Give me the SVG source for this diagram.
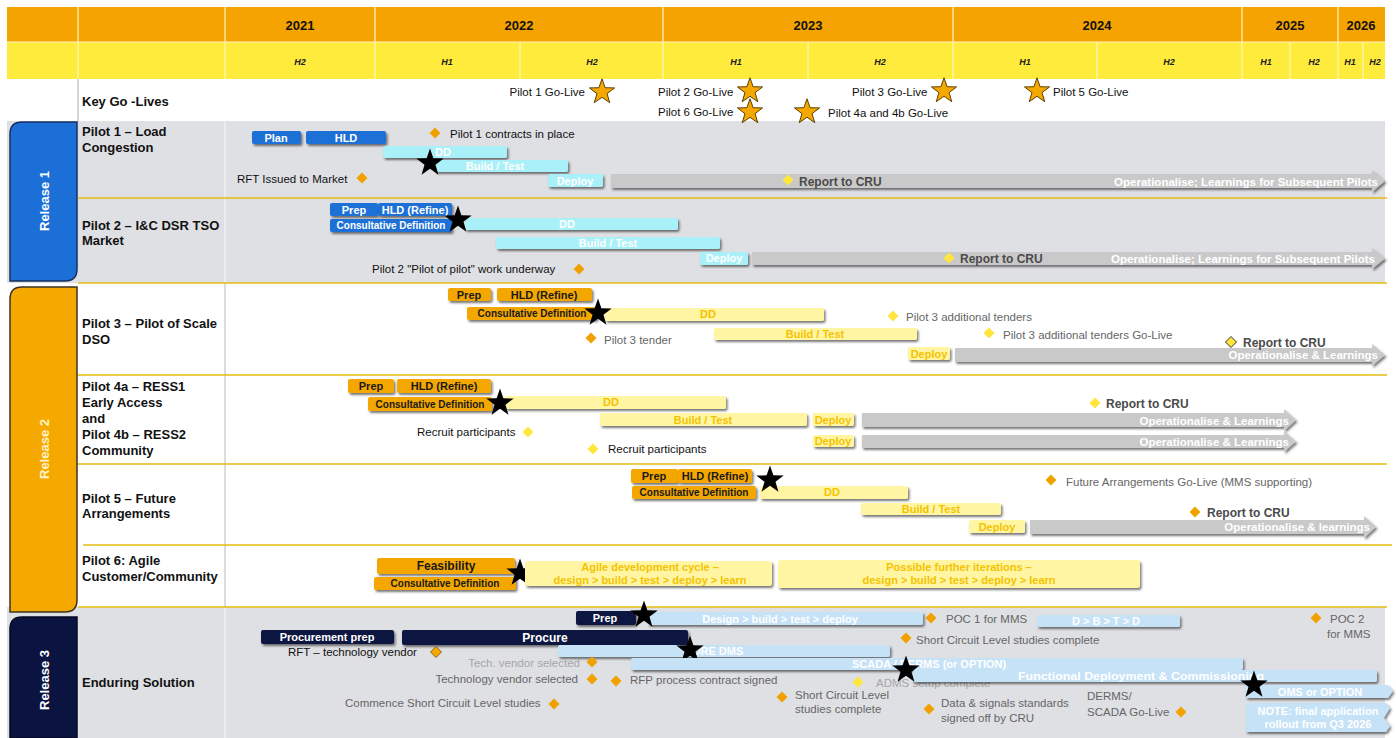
<svg xmlns="http://www.w3.org/2000/svg" xmlns:xlink="http://www.w3.org/1999/xlink" width="1396" height="738" viewBox="0 0 1396 738">
<style>
text{font-family:"Liberation Sans",Arial,sans-serif}
.yr{font-size:13px;font-weight:bold;fill:#111;text-anchor:middle}
.hf{font-size:9px;font-weight:bold;font-style:italic;fill:#222;text-anchor:middle}
.lab{font-size:13px;font-weight:bold;fill:#111}
.ms{font-size:11.5px;fill:#111}
.msg{font-size:11.5px;fill:#666}
.msl{font-size:11.5px;fill:#a6a6a6}
.bw{font-size:11px;font-weight:bold;fill:#fff;text-anchor:middle}
.by{font-size:11px;font-weight:bold;fill:#f4c300;text-anchor:middle}
.bd{font-size:11px;font-weight:bold;fill:#1a1a1a;text-anchor:middle}
.cd{font-size:10px}
.cru{font-size:12px;font-weight:bold;fill:#4a4a4a}
.op{font-size:11.5px;font-weight:bold;fill:#fff;text-anchor:end}
.rel{font-size:13px;font-weight:bold;text-anchor:middle}
.blue{fill:#1b6fd6}
.cyan{fill:#a9f0f9}
.ylw{fill:#fff5a3}
.org{fill:#f4a700}
.navy{fill:#0b1340}
.lb{fill:#c5e2f7}
.arr{fill:#c9c9c9}
.sep{stroke:#e3bd10;stroke-width:1.5}
.sh{filter:url(#sh)}
.dmo{fill:#f0a000}
.dmy{fill:#ffe53c}
.stb{fill:#000}
.sto{fill:#f5a800;stroke:#5a3e00;stroke-width:0.9}
</style>
<defs>
<filter id="sh" x="-5%" y="-30%" width="112%" height="180%">
<feDropShadow dx="1.5" dy="2" stdDeviation="1" flood-color="#222" flood-opacity="0.6"/>
</filter>
<path id="star" d="M0,-12 L2.82,-3.88 L11.41,-3.71 L4.57,1.48 L7.05,9.71 L0,4.8 L-7.05,9.71 L-4.57,1.48 L-11.41,-3.71 L-2.82,-3.88 Z"/>
<path id="dm" d="M0,-5.5 L5.5,0 L0,5.5 L-5.5,0 Z"/>
</defs>

<rect x="0" y="0" width="1396" height="738" fill="#fff"/>

<g id="header">
<rect x="7" y="7" width="1378" height="35" fill="#f5a300"/>
<rect x="7" y="42" width="1378" height="37" fill="#ffeb3b"/>
<g stroke="#fff6c0" stroke-width="1.2">
<line x1="78" y1="7" x2="78" y2="79"/><line x1="225" y1="7" x2="225" y2="79"/>
<line x1="375" y1="7" x2="375" y2="79"/><line x1="663" y1="7" x2="663" y2="79"/>
<line x1="953" y1="7" x2="953" y2="79"/><line x1="1242" y1="7" x2="1242" y2="79"/>
<line x1="1338" y1="7" x2="1338" y2="79"/>
<line x1="520" y1="42" x2="520" y2="79"/><line x1="808" y1="42" x2="808" y2="79"/>
<line x1="1097" y1="42" x2="1097" y2="79"/><line x1="1290" y1="42" x2="1290" y2="79"/>
<line x1="1363" y1="42" x2="1363" y2="79"/>
<line x1="7" y1="42" x2="1385" y2="42"/>
</g>
<text class="yr" x="300" y="30">2021</text>
<text class="yr" x="519" y="30">2022</text>
<text class="yr" x="808" y="30">2023</text>
<text class="yr" x="1097" y="30">2024</text>
<text class="yr" x="1290" y="30">2025</text>
<text class="yr" x="1361" y="30">2026</text>
<text class="hf" x="300" y="65">H2</text>
<text class="hf" x="447" y="65">H1</text>
<text class="hf" x="592" y="65">H2</text>
<text class="hf" x="736" y="65">H1</text>
<text class="hf" x="880" y="65">H2</text>
<text class="hf" x="1025" y="65">H1</text>
<text class="hf" x="1169" y="65">H2</text>
<text class="hf" x="1266" y="65">H1</text>
<text class="hf" x="1314" y="65">H2</text>
<text class="hf" x="1350" y="65">H1</text>
<text class="hf" x="1375" y="65">H2</text>
</g>

<g id="background">
<line x1="78" y1="79" x2="78" y2="121" stroke="#bdbdbd" stroke-width="1.2"/>
<rect x="7" y="121" width="1378" height="162" fill="#dfe0e4"/>
<rect x="7" y="607" width="1378" height="131" fill="#dfe0e4"/>
<line x1="225" y1="121" x2="225" y2="283" stroke="#f2f2f2" stroke-width="1.2"/>
<line x1="225" y1="283" x2="225" y2="607" stroke="#c4c4c4" stroke-width="1.2"/>
<line x1="225" y1="607" x2="225" y2="738" stroke="#f2f2f2" stroke-width="1.2"/>
<line class="sep" x1="78" y1="198" x2="1387" y2="198"/>
<line class="sep" x1="78" y1="283" x2="1387" y2="283"/>
<line class="sep" x1="78" y1="375" x2="1387" y2="375"/>
<line class="sep" x1="78" y1="464" x2="1387" y2="464"/>
<line class="sep" x1="83" y1="545" x2="1392" y2="545"/>
<line class="sep" x1="78" y1="607" x2="1387" y2="607"/>
</g>

<g id="release-1">
<path d="M22,122 H77 V269 Q77,281 65,281 H10 V134 Q10,122 22,122 Z" fill="#1b6fd6" stroke="#16305e" stroke-width="1.5"/>
<text class="rel" fill="#fff" transform="translate(49,201) rotate(-90)">Release 1</text>
</g>
<g id="release-2">
<path d="M22,287 H77 V600 Q77,612 65,612 H10 V299 Q10,287 22,287 Z" fill="#f5a800" stroke="#3a3320" stroke-width="1.5"/>
<text class="rel" fill="#fff3c4" transform="translate(49,449) rotate(-90)">Release 2</text>
</g>
<g id="release-3">
<path d="M22,617 H77 V738 H10 V629 Q10,617 22,617 Z" fill="#0b1340" stroke="#050a20" stroke-width="1.5"/>
<text class="rel" fill="#fff" transform="translate(49,680) rotate(-90)">Release 3</text>
</g>

<g id="row-labels">
<text class="lab" x="82" y="106">Key Go -Lives</text>
<text class="lab" x="82" y="136">Pilot 1 – Load</text>
<text class="lab" x="82" y="152">Congestion</text>
<text class="lab" x="82" y="230">Pilot 2 – I&amp;C DSR TSO</text>
<text class="lab" x="82" y="245">Market</text>
<text class="lab" x="82" y="328">Pilot 3 – Pilot of Scale</text>
<text class="lab" x="82" y="344">DSO</text>
<text class="lab" x="82" y="391">Pilot 4a – RESS1</text>
<text class="lab" x="82" y="407">Early Access</text>
<text class="lab" x="82" y="423">and</text>
<text class="lab" x="82" y="439">Pilot 4b – RESS2</text>
<text class="lab" x="82" y="455">Community</text>
<text class="lab" x="82" y="503">Pilot 5 – Future</text>
<text class="lab" x="82" y="518">Arrangements</text>
<text class="lab" x="82" y="565">Pilot 6: Agile</text>
<text class="lab" x="82" y="581">Customer/Community</text>
<text class="lab" x="82" y="687">Enduring Solution</text>
</g>

<g id="connectors"></g>

<!-- Key go-lives -->
<g id="golive-p1"><text class="ms" x="585" y="96" text-anchor="end">Pilot 1 Go-Live</text><use href="#star" class="sto" transform="translate(602,92) scale(1.1)"/></g>
<g id="golive-p2"><text class="ms" x="658" y="96">Pilot 2 Go-Live</text><use href="#star" class="sto" transform="translate(750,91) scale(1.1)"/></g>
<g id="golive-p6"><text class="ms" x="658" y="116">Pilot 6 Go-Live</text><use href="#star" class="sto" transform="translate(750,112) scale(1.1)"/></g>
<g id="golive-p4"><use href="#star" class="sto" transform="translate(807,112) scale(1.1)"/><text class="ms" x="828" y="117">Pilot 4a and 4b Go-Live</text></g>
<g id="golive-p3"><text class="ms" x="852" y="96">Pilot 3 Go-Live</text><use href="#star" class="sto" transform="translate(944,91) scale(1.1)"/></g>
<g id="golive-p5"><use href="#star" class="sto" transform="translate(1037,91) scale(1.1)"/><text class="ms" x="1053" y="96">Pilot 5 Go-Live</text></g>

<!-- Pilot 1 -->
<g id="p1-plan"><rect class="blue sh" x="252" y="131" width="49" height="13" rx="2"/><text class="bw" x="276" y="141.5">Plan</text></g>
<g id="p1-hld"><rect class="blue sh" x="306" y="131" width="80" height="13" rx="2"/><text class="bw" x="346" y="141.5">HLD</text></g>
<g id="p1-contracts"><use href="#dm" class="dmo" x="435" y="133"/><text class="ms" x="450" y="138">Pilot 1 contracts in place</text></g>
<g id="p1-dd"><rect class="cyan sh" x="383" y="146" width="124" height="12" rx="2"/><text class="bw" x="443" y="156">DD</text></g>
<g id="p1-build"><rect class="cyan sh" x="435" y="160" width="133" height="12" rx="2"/><text class="bw" x="495" y="170">Build / Test</text></g>
<g id="p1-deploy"><rect class="cyan sh" x="548" y="174" width="55" height="13" rx="2"/><text class="bw" x="575" y="184.5">Deploy</text></g>
<g id="p1-rft"><text class="ms" x="237" y="183">RFT Issued to Market</text><use href="#dm" class="dmo" x="362" y="178"/></g>
<g id="p1-star"><use href="#star" class="stb" transform="translate(430,163) scale(1.2)"/></g>
<g id="p1-operationalise">
<polygon class="arr sh" points="611,174 1372,174 1372,170 1385,181 1372,192 1372,188 611,188"/>
<use href="#dm" class="dmy" x="788" y="180"/>
<text class="cru" x="799" y="186">Report to CRU</text>
<text class="op" x="1378" y="186">Operationalise; Learnings for Subsequent Pilots</text>
</g>

<!-- Pilot 2 -->
<g id="p2-prep"><rect class="blue sh" x="330" y="203" width="48" height="13" rx="2"/><text class="bw" x="354" y="213.5">Prep</text></g>
<g id="p2-hld"><rect class="blue sh" x="378" y="203" width="74" height="13" rx="2"/><text class="bw" x="415" y="213.5">HLD (Refine)</text></g>
<g id="p2-consult"><rect class="blue sh" x="330" y="219" width="122" height="13" rx="2"/><text class="bw cd" x="391" y="229">Consultative Definition</text></g>
<g id="p2-dd"><rect class="cyan sh" x="465" y="218" width="213" height="12" rx="2"/><text class="bw" x="567" y="228">DD</text></g>
<g id="p2-build"><rect class="cyan sh" x="496" y="237" width="224" height="12" rx="2"/><text class="bw" x="608" y="247">Build / Test</text></g>
<g id="p2-deploy"><rect class="cyan sh" x="700" y="252" width="48" height="13" rx="2"/><text class="bw" x="724" y="262">Deploy</text></g>
<g id="p2-star"><use href="#star" class="stb" transform="translate(458,220) scale(1.2)"/></g>
<g id="p2-underway"><text class="ms" x="372" y="273">Pilot 2 "Pilot of pilot" work underway</text><use href="#dm" class="dmo" x="579" y="269"/></g>
<g id="p2-operationalise">
<polygon class="arr sh" points="752,252 1372,252 1372,248 1385,258.5 1372,269 1372,265 752,265"/>
<use href="#dm" class="dmy" x="949" y="258"/>
<text class="cru" x="960" y="263">Report to CRU</text>
<text class="op" x="1375" y="263">Operationalise; Learnings for Subsequent Pilots</text>
</g>

<!-- Pilot 3 -->
<g id="p3-prep"><rect class="org sh" x="448" y="288" width="43" height="13" rx="2"/><text class="bd" x="469" y="298.5">Prep</text></g>
<g id="p3-hld"><rect class="org sh" x="497" y="288" width="95" height="13" rx="2"/><text class="bd" x="544" y="298.5">HLD (Refine)</text></g>
<g id="p3-consult"><rect class="org sh" x="467" y="307" width="130" height="13" rx="2"/><text class="bd cd" x="532" y="317">Consultative Definition</text></g>
<g id="p3-dd"><rect class="ylw sh" x="605" y="308" width="219" height="13" rx="2"/><text class="by" x="708" y="318">DD</text></g>
<g id="p3-star"><use href="#star" class="stb" transform="translate(598,313) scale(1.2)"/></g>
<g id="p3-addtenders"><use href="#dm" class="dmy" x="893" y="316"/><text class="msg" x="906" y="321">Pilot 3 additional tenders</text></g>
<g id="p3-tender"><use href="#dm" class="dmo" x="591" y="338"/><text class="msg" x="604" y="344">Pilot 3 tender</text></g>
<g id="p3-build"><rect class="ylw sh" x="714" y="328" width="203" height="12" rx="2"/><text class="by" x="815" y="338">Build / Test</text></g>
<g id="p3-addgolive"><use href="#dm" class="dmy" x="989" y="333"/><text class="msg" x="1003" y="339">Pilot 3 additional tenders Go-Live</text></g>
<g id="p3-deploy"><rect class="ylw sh" x="908" y="347" width="42" height="13" rx="2"/><text class="by" x="929" y="357.5">Deploy</text></g>
<g id="p3-operationalise">
<polygon class="arr sh" points="955,348 1372,348 1372,344 1385,355 1372,366 1372,362 955,362"/>
<use href="#dm" fill="#ffe53c" stroke="#333" stroke-width="1" x="1231" y="342"/>
<text class="cru" x="1243" y="347">Report to CRU</text>
<text class="op" x="1378" y="359">Operationalise &amp; Learnings</text>
</g>

<!-- Pilot 4 -->
<g id="p4-prep"><rect class="org sh" x="348" y="379" width="46" height="14" rx="2"/><text class="bd" x="371" y="390">Prep</text></g>
<g id="p4-hld"><rect class="org sh" x="397" y="379" width="94" height="14" rx="2"/><text class="bd" x="444" y="390">HLD (Refine)</text></g>
<g id="p4-consult"><rect class="org sh" x="368" y="397" width="124" height="14" rx="2"/><text class="bd cd" x="430" y="407.5">Consultative Definition</text></g>
<g id="p4-dd"><rect class="ylw sh" x="505" y="396" width="221" height="13" rx="2"/><text class="by" x="611" y="406">DD</text></g>
<g id="p4-star"><use href="#star" class="stb" transform="translate(500,403) scale(1.2)"/></g>
<g id="p4-recruit1"><text class="ms" x="417" y="436">Recruit participants</text><use href="#dm" class="dmy" x="528" y="432"/></g>
<g id="p4-build"><rect class="ylw sh" x="600" y="413" width="207" height="13" rx="2"/><text class="by" x="703" y="423.5">Build / Test</text></g>
<g id="p4-deploy1"><rect class="ylw sh" x="813" y="413" width="41" height="13" rx="2"/><text class="by" x="833" y="423.5">Deploy</text></g>
<g id="p4-operationalise1">
<polygon class="arr sh" points="862,413 1284,413 1284,409 1296,420 1284,431 1284,427 862,427"/>
<text class="op" x="1289" y="425">Operationalise &amp; Learnings</text>
</g>
<g id="p4-recruit2"><use href="#dm" class="dmy" x="593" y="449"/><text class="ms" x="608" y="453">Recruit participants</text></g>
<g id="p4-deploy2"><rect class="ylw sh" x="813" y="435" width="41" height="12" rx="2"/><text class="by" x="833" y="445">Deploy</text></g>
<g id="p4-operationalise2">
<polygon class="arr sh" points="862,435 1284,435 1284,431 1296,441.5 1284,452 1284,448 862,448"/>
<text class="op" x="1289" y="446">Operationalise &amp; Learnings</text>
</g>
<g id="p4-report"><use href="#dm" class="dmy" x="1095" y="403"/><text class="cru" x="1106" y="408">Report to CRU</text></g>

<!-- Pilot 5 -->
<g id="p5-prep"><rect class="org sh" x="631" y="469" width="47" height="14" rx="2"/><text class="bd" x="654" y="480">Prep</text></g>
<g id="p5-hld"><rect class="org sh" x="678" y="469" width="74" height="14" rx="2"/><text class="bd" x="715" y="480">HLD (Refine)</text></g>
<g id="p5-consult"><rect class="org sh" x="632" y="486" width="124" height="13" rx="2"/><text class="bd cd" x="694" y="496">Consultative Definition</text></g>
<g id="p5-dd"><rect class="ylw sh" x="760" y="486" width="148" height="13" rx="2"/><text class="by" x="832" y="496">DD</text></g>
<g id="p5-star"><use href="#star" class="stb" transform="translate(770,480) scale(1.2)"/></g>
<g id="p5-build"><rect class="ylw sh" x="861" y="503" width="140" height="12" rx="2"/><text class="by" x="931" y="513">Build / Test</text></g>
<g id="p5-deploy"><rect class="ylw sh" x="969" y="520" width="56" height="13" rx="2"/><text class="by" x="997" y="530.5">Deploy</text></g>
<g id="p5-operationalise">
<polygon class="arr sh" points="1030,520 1364,520 1364,516 1376,527 1364,538 1364,534 1030,534"/>
<text class="op" x="1370" y="531">Operationalise &amp; learnings</text>
</g>
<g id="p5-future"><use href="#dm" class="dmo" x="1051" y="480"/><text class="msg" x="1066" y="486">Future Arrangements Go-Live (MMS supporting)</text></g>
<g id="p5-report"><use href="#dm" class="dmo" x="1195" y="512"/><text class="cru" x="1207" y="517">Report to CRU</text></g>

<!-- Pilot 6 -->
<g id="p6-feasibility"><rect class="org sh" x="377" y="558" width="138" height="16" rx="2"/><text class="bd" style="font-size:12px" x="446" y="570">Feasibility</text></g>
<g id="p6-consult"><rect class="org sh" x="374" y="577" width="142" height="13" rx="2"/><text class="bd cd" x="445" y="587">Consultative Definition</text></g>
<g id="p6-star"><use href="#star" class="stb" transform="translate(520,573) scale(1.2)"/></g>
<g id="p6-agile"><rect class="ylw sh" x="525" y="561" width="247" height="25" rx="3"/>
<text class="by" x="650" y="571">Agile development cycle –</text>
<text class="by" x="650" y="584">design &gt; build &gt; test &gt; deploy &gt; learn</text></g>
<g id="p6-possible"><rect class="ylw sh" x="778" y="560" width="362" height="28" rx="3"/>
<text class="by" x="959" y="571">Possible further iterations –</text>
<text class="by" x="959" y="584">design &gt; build &gt; test &gt; deploy &gt; learn</text></g>

<!-- Enduring solution -->
<g id="es-prep"><rect class="navy sh" x="576" y="611" width="60" height="14" rx="2"/><text class="bw" x="605" y="622">Prep</text></g>
<g id="es-design"><rect class="lb sh" x="648" y="612" width="275" height="13" rx="2"/><text class="bw" x="780" y="622.5">Design &gt; build &gt; test &gt; deploy</text></g>
<g id="es-star1"><use href="#star" class="stb" transform="translate(644,615) scale(1.2)"/></g>
<g id="es-poc1"><use href="#dm" class="dmo" x="931" y="618"/><text class="msg" x="946" y="623">POC 1 for MMS</text></g>
<g id="es-dbtd"><rect class="lb sh" x="1037" y="615" width="143" height="12" rx="2"/><text class="bw" x="1106" y="625">D &gt; B &gt; T &gt; D</text></g>
<g id="es-poc2"><use href="#dm" class="dmo" x="1316" y="618"/><text class="msg" x="1330" y="623">POC 2</text><text class="msg" x="1327" y="638">for MMS</text></g>
<g id="es-procprep"><rect class="navy sh" x="261" y="630" width="133" height="14" rx="2"/><text class="bw" x="327" y="641">Procurement prep</text></g>
<g id="es-procure"><rect class="navy sh" x="402" y="630" width="286" height="15" rx="2"/><text class="bw" style="font-size:12px" x="545" y="641.5">Procure</text></g>
<g id="es-sclc1"><use href="#dm" class="dmo" x="906" y="638"/><text class="msg" x="916" y="644">Short Circuit Level studies complete</text></g>
<g id="es-rft"><text class="ms" x="288" y="656">RFT – technology vendor</text><use href="#dm" fill="#f5a800" stroke="#6b4a00" stroke-width="0.8" x="436" y="652"/></g>
<g id="es-coredms"><rect class="lb sh" x="558" y="645" width="332" height="12" rx="2"/><text class="bw" x="684" y="655" style="text-anchor:start">CORE DMS</text></g>
<g id="es-star2"><use href="#star" class="stb" transform="translate(690,650) scale(1.2)"/></g>
<g id="es-techsel"><text class="msl" x="580" y="667" text-anchor="end">Tech. vendor selected</text><use href="#dm" class="dmo" x="592" y="662"/></g>
<g id="es-scada"><rect class="lb sh" x="631" y="658" width="612" height="12" rx="2"/><text class="bw" x="852" y="668" style="text-anchor:start">SCADA / DERMS (or OPTION)</text></g>
<g id="es-techvend"><text class="msg" x="578" y="683" text-anchor="end">Technology vendor selected</text><use href="#dm" class="dmo" x="592" y="679"/></g>
<g id="es-rfp"><use href="#dm" class="dmo" x="616" y="681"/><text class="msg" x="630" y="684">RFP process contract signed</text></g>
<g id="es-adms"><use href="#dm" class="dmy" x="858" y="682"/><text class="msl" x="876" y="687">ADMS setup complete</text></g>
<g id="es-functional"><rect class="lb sh" x="913" y="670" width="464" height="12" rx="2"/><text class="bw" x="1018" y="680" style="text-anchor:start" textLength="246" lengthAdjust="spacingAndGlyphs">Functional Deployment &amp; Commissioning</text></g>
<g id="es-star3"><use href="#star" class="stb" transform="translate(906,670) scale(1.2)"/></g>
<g id="es-oms"><path class="lb sh" d="M1246,685 H1388 L1393,691 L1388,698 H1246 Z"/><text class="bw" x="1320" y="695.5">OMS or OPTION</text></g>
<g id="es-star4"><use href="#star" class="stb" transform="translate(1254,685) scale(1.2)"/></g>
<g id="es-note"><path class="lb sh" d="M1246,703 H1386 L1390,708 L1384,718 L1390,726 L1386,732 H1246 Z"/>
<text class="bw" x="1318" y="715">NOTE: final application</text>
<text class="bw" x="1318" y="728">rollout from Q3 2026</text></g>
<g id="es-sclc2"><use href="#dm" class="dmo" x="782" y="697"/><text class="msg" x="795" y="699">Short Circuit Level</text><text class="msg" x="795" y="713">studies complete</text></g>
<g id="es-commence"><text class="msg" x="345" y="707">Commence Short Circuit Level studies</text><use href="#dm" class="dmo" x="554" y="704"/></g>
<g id="es-data"><use href="#dm" class="dmo" x="929" y="709"/><text class="msg" x="941" y="707">Data &amp; signals standards</text><text class="msg" x="941" y="722">signed off by CRU</text></g>
<g id="es-dermsgo"><text class="msg" x="1087" y="700">DERMS/</text><text class="msg" x="1087" y="716">SCADA Go-Live</text><use href="#dm" class="dmo" x="1181" y="712"/></g>
</svg>
